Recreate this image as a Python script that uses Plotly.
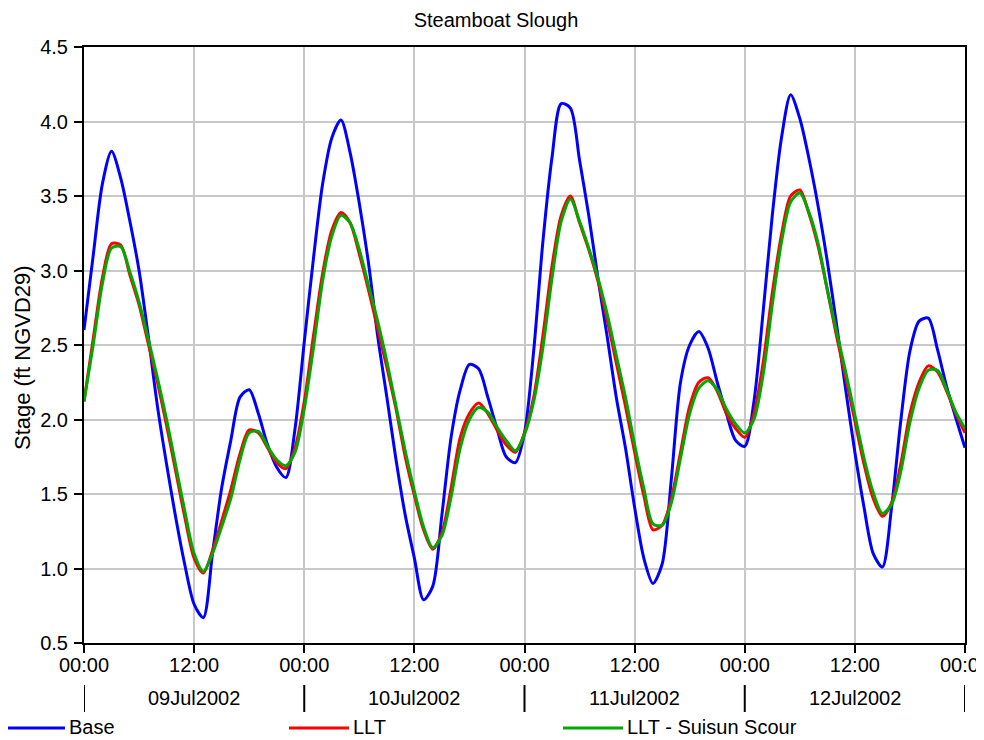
import pandas as pd
import plotly.graph_objects as go

# Hourly stage values, 09Jul2002 00:00 .. 13Jul2002 00:00 (ft NGVD29)
base = [
    2.60, 3.10, 3.58, 3.80, 3.62, 3.33, 3.00, 2.56, 2.09, 1.70, 1.34, 1.02,
    0.76, 0.67, 1.10, 1.54, 1.86, 2.15, 2.20, 2.04, 1.83, 1.68, 1.61, 1.94,
    2.52, 3.08, 3.58, 3.89, 4.01, 3.79, 3.45, 3.05, 2.56, 2.15, 1.73, 1.36,
    1.07, 0.79, 0.88, 1.36, 1.88, 2.20, 2.37, 2.34, 2.15, 1.94, 1.75, 1.71,
    1.91, 2.46, 3.19, 3.76, 4.12, 4.09, 3.74, 3.37, 2.95, 2.56, 2.15, 1.81,
    1.41, 1.07, 0.90, 1.03, 1.60, 2.25, 2.50, 2.59, 2.48, 2.25, 2.04, 1.86,
    1.82, 2.12, 2.72, 3.37, 3.89, 4.18, 4.02, 3.75, 3.43, 3.06, 2.64, 2.20,
    1.78, 1.41, 1.10, 1.01, 1.41, 1.99, 2.46, 2.66, 2.68, 2.47, 2.22, 2.01,
    1.81,
]
llt = [
    2.12, 2.54, 2.95, 3.18, 3.17, 2.97, 2.77, 2.51, 2.25, 1.96, 1.65, 1.34,
    1.07, 0.97, 1.12, 1.32, 1.53, 1.77, 1.93, 1.91, 1.81, 1.71, 1.67, 1.81,
    2.12, 2.56, 2.98, 3.27, 3.39, 3.32, 3.11, 2.87, 2.61, 2.35, 2.07, 1.75,
    1.49, 1.26, 1.13, 1.24, 1.54, 1.88, 2.04, 2.11, 2.04, 1.93, 1.83, 1.78,
    1.91, 2.15, 2.56, 3.03, 3.37, 3.50, 3.32, 3.14, 2.93, 2.67, 2.38, 2.09,
    1.78, 1.49, 1.26, 1.29, 1.47, 1.78, 2.09, 2.25, 2.28, 2.19, 2.04, 1.94,
    1.88, 2.04, 2.38, 2.85, 3.24, 3.50, 3.54, 3.38, 3.16, 2.87, 2.56, 2.28,
    1.99, 1.70, 1.47, 1.35, 1.44, 1.70, 2.04, 2.25, 2.36, 2.32, 2.19, 2.04,
    1.91,
]
llt_scour = [
    2.12, 2.50, 2.91, 3.15, 3.16, 2.99, 2.79, 2.54, 2.28, 2.00, 1.69, 1.38,
    1.10, 0.98, 1.10, 1.28, 1.47, 1.73, 1.91, 1.92, 1.82, 1.73, 1.69, 1.78,
    2.07, 2.48, 2.93, 3.23, 3.37, 3.32, 3.14, 2.90, 2.66, 2.39, 2.09, 1.79,
    1.52, 1.28, 1.14, 1.22, 1.48, 1.81, 2.00, 2.08, 2.05, 1.95, 1.86, 1.79,
    1.90, 2.12, 2.48, 2.95, 3.33, 3.48, 3.33, 3.15, 2.95, 2.71, 2.43, 2.15,
    1.83, 1.54, 1.30, 1.29, 1.44, 1.74, 2.04, 2.21, 2.26, 2.20, 2.07, 1.97,
    1.91, 2.00, 2.30, 2.77, 3.19, 3.46, 3.52, 3.39, 3.18, 2.87, 2.59, 2.32,
    2.03, 1.74, 1.51, 1.37, 1.43, 1.65, 1.98, 2.21, 2.33, 2.33, 2.20, 2.05,
    1.94,
]
day_labels = ["09Jul2002", "10Jul2002", "11Jul2002", "12Jul2002"]
series_names = ["Base", "LLT", "LLT - Suisun Scour"]
series_colors = ["#0000FF", "#FF0000", "#00A800"]

times = pd.date_range("2002-07-09 00:00", periods=len(base), freq="h")
days = pd.to_datetime(day_labels, format="%d%b%Y")

FONT = "Liberation Sans, Arial, sans-serif"
FS = 20
OFF = 8  # page body margin: figure starts 8px in from the window corner
W, H = 984 - OFF, 740 - OFF
L, T = 84 - OFF, 47 - OFF
R = W - (965 - OFF)
B = H - (643 - OFF)
plot_w = W - L - R
plot_h = H - T - B


def px_x(px):
    # window pixel -> paper x
    return (px - OFF - L) / plot_w


def px_y(py):
    # window pixel -> paper y
    return (H - B - (py - OFF)) / plot_h


fig = go.Figure()
for name, vals, col in zip(series_names, [base, llt, llt_scour], series_colors):
    fig.add_trace(
        go.Scatter(
            x=times, y=vals, name=name, mode="lines",
            line=dict(color=col, width=3, shape="spline", smoothing=0.8),
        )
    )

# second row of the time axis: day names and day separators
for d, lab in zip(days, day_labels):
    fig.add_annotation(
        x=d + pd.Timedelta(hours=12), y=px_y(698), xref="x", yref="paper",
        text=lab, showarrow=False, yanchor="middle",
        font=dict(size=FS, color="black"),
    )
for d in list(days) + [days[-1] + pd.Timedelta(days=1)]:
    fig.add_shape(
        type="line", xref="x", yref="paper", x0=d, x1=d,
        y0=px_y(685), y1=px_y(712), line=dict(color="black", width=2),
    )

# legend row drawn below the axis
legend_x = [8, 289, 563]
for name, col, lx in zip(series_names, series_colors, legend_x):
    fig.add_shape(
        type="line", xref="paper", yref="paper",
        x0=px_x(lx), x1=px_x(lx + 57 if lx == 8 else lx + 60),
        y0=px_y(728), y1=px_y(728),
        line=dict(color=col, width=3),
    )
    fig.add_annotation(
        x=px_x(lx + 59 if lx == 8 else lx + 62), y=px_y(727),
        xref="paper", yref="paper",
        text=name, showarrow=False, xanchor="left", yanchor="middle",
        font=dict(size=FS, color="black"),
    )

# y axis title, placed like the original (slightly below the plot centre)
fig.add_annotation(
    x=px_x(22), y=px_y(358), xref="paper", yref="paper",
    text="Stage (ft NGVD29)", textangle=-90, showarrow=False,
    xanchor="center", yanchor="middle", font=dict(size=22, color="black"),
)

axis_common = dict(
    showline=True, linecolor="black", linewidth=2, mirror=True,
    showgrid=True, gridcolor="#C8C8C8", gridwidth=2,
    ticks="outside", ticklen=8, tickcolor="black", tickwidth=2,
    tickfont=dict(size=FS, color="black"), zeroline=False, automargin=False,
)
fig.update_xaxes(
    range=[times[0], times[-1]], dtick=12 * 3600 * 1000, tickformat="%H:%M",
    ticklabeloverflow="allow", ticklabelstandoff=-5,
    **axis_common,
)
fig.update_yaxes(
    range=[0.5, 4.5], dtick=0.5, tickformat=".1f", ticklabelstandoff=2,
    **axis_common,
)
fig.update_layout(
    width=W, height=H,
    margin=dict(l=L, r=R, t=T, b=B),
    paper_bgcolor="white", plot_bgcolor="white",
    font=dict(family=FONT, color="black"),
    showlegend=False,
    title=dict(
        text="Steamboat Slough", x=0.5, xref="container", xanchor="center",
        y=1 - (20 - OFF) / H, yanchor="middle", font=dict(size=FS, color="black"),
    ),
)
fig.write_html("out.html")
